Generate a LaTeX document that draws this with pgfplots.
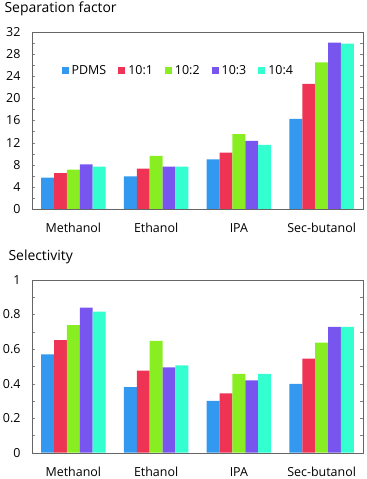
\documentclass[border=0pt]{standalone}
\usepackage{fontspec}
\setmainfont{Open Sans}
\usepackage{pgfplots}
\pgfplotsset{compat=1.18}

\definecolor{cPDMS}{HTML}{3399F0}
\definecolor{cA}{HTML}{EE3355}
\definecolor{cB}{HTML}{88EE22}
\definecolor{cC}{HTML}{7755EE}
\definecolor{cD}{HTML}{33FFD0}

\pgfplotsset{
  selbars/.style={
    scale only axis, width=331bp,
    ybar=0pt, bar width=0.156,
    xmin=-0.5, xmax=3.5,
    xtick={0,1,2,3},
    xticklabels={Methanol,Ethanol,IPA,Sec-butanol},
    xtick style={draw=none},
    xticklabel style={yshift=-11bp},
    yticklabel style={xshift=-8bp},
    ymin=0,
    tick align=inside,
    major tick length=3bp, minor tick length=3bp,
    ytick style={gray},
    axis line style={gray!80!black},
    font=\fontsize{12.5}{14}\selectfont,
    /pgf/number format/assume math mode=true,
    every axis plot/.append style={draw=none},
  }
}

\begin{document}
\begin{tikzpicture}[x=1bp,y=1bp]
\path[use as bounding box] (0,0) rectangle (366,479);

\node[anchor=west, font=\fontsize{14}{16}\selectfont] at (1,470) {Separation factor};
\begin{axis}[selbars,
  at={(32bp,270bp)}, anchor=south west, height=177bp,
  ymax=32, ytick={0,4,...,32}, minor ytick={2,6,...,30},
  legend style={draw=none, fill=none, at={(0.08,0.78)}, anchor=west,
    legend columns=-1, font=\fontsize{12.5}{14}\selectfont,
    /tikz/every odd column/.append style={column sep=1bp},
    /tikz/every even column/.append style={column sep=10bp}},
  legend image code/.code={\fill[#1] (0bp,-3.5bp) rectangle (7bp,3.5bp);},
]
\addplot[fill=cPDMS] coordinates {(0,5.65) (1,5.9) (2,8.96) (3,16.3)};
\addplot[fill=cA] coordinates {(0,6.5) (1,7.28) (2,10.17) (3,22.6)};
\addplot[fill=cB] coordinates {(0,7.1) (1,9.62) (2,13.53) (3,26.5)};
\addplot[fill=cC] coordinates {(0,8.06) (1,7.64) (2,12.33) (3,30.08)};
\addplot[fill=cD] coordinates {(0,7.64) (1,7.64) (2,11.6) (3,29.9)};
\legend{PDMS,10:1,10:2,10:3,10:4}
\end{axis}

\node[anchor=west, font=\fontsize{14}{16}\selectfont] at (5,222) {Selectivity};
\begin{axis}[selbars,
  at={(32bp,26.3bp)}, anchor=south west, height=172.7bp,
  ymax=1, ytick={0,0.2,...,1}, minor ytick={0.1,0.3,...,0.9},
  yticklabel style={/pgf/number format/fixed, /pgf/number format/precision=1},
]
\addplot[fill=cPDMS] coordinates {(0,0.569) (1,0.38) (2,0.30) (3,0.398)};
\addplot[fill=cA] coordinates {(0,0.652) (1,0.475) (2,0.344) (3,0.544)};
\addplot[fill=cB] coordinates {(0,0.739) (1,0.647) (2,0.456) (3,0.637)};
\addplot[fill=cC] coordinates {(0,0.84) (1,0.494) (2,0.419) (3,0.728)};
\addplot[fill=cD] coordinates {(0,0.817) (1,0.506) (2,0.456) (3,0.728)};
\end{axis}
\end{tikzpicture}
\end{document}
